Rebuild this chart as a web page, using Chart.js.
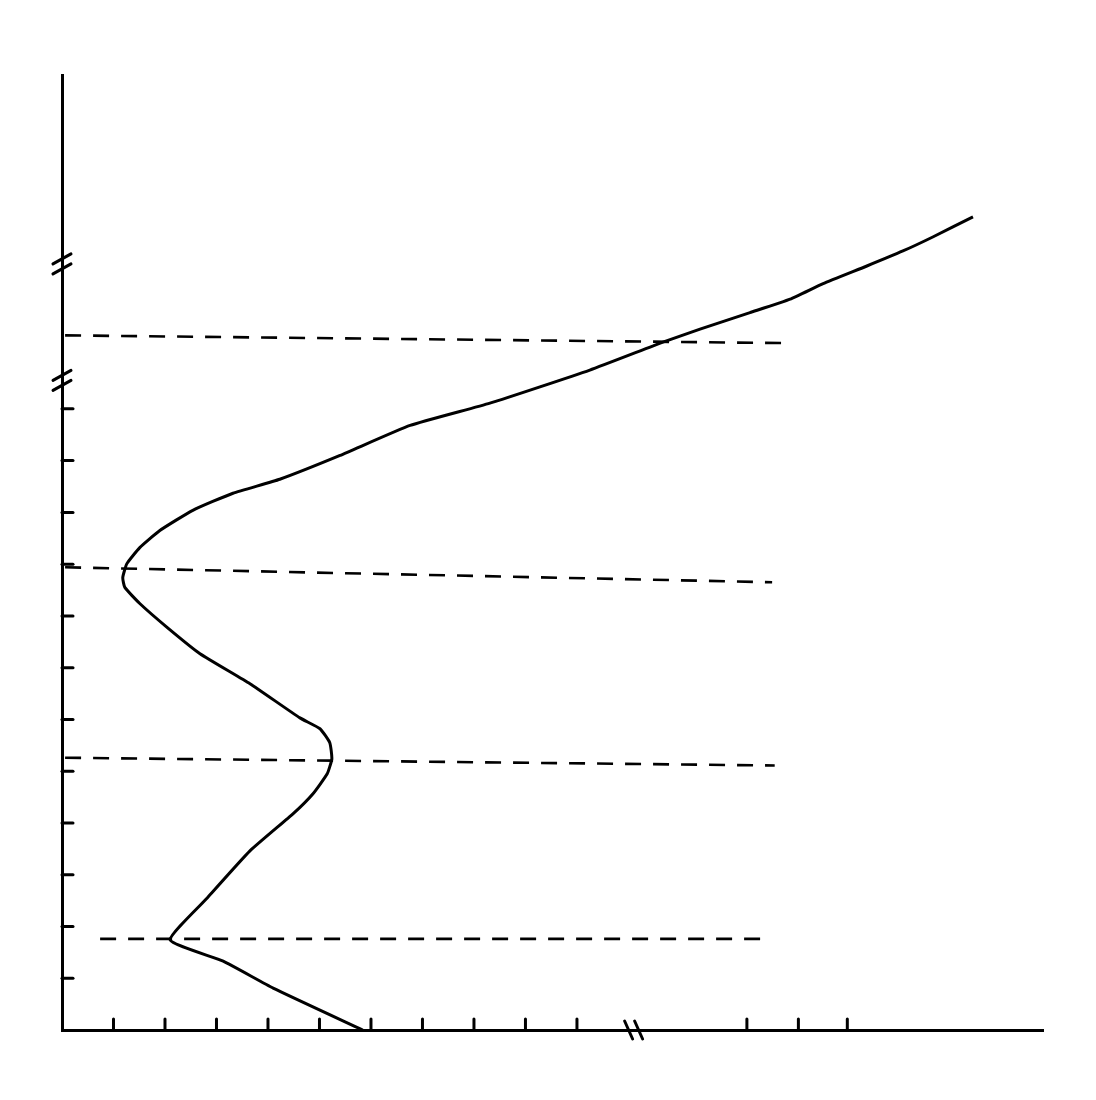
<!DOCTYPE html>
<html>
<head>
<meta charset="utf-8">
<script src="https://cdn.jsdelivr.net/npm/chart.js@4.4.1/dist/chart.umd.min.js"></script>
<style>
html,body{margin:0;padding:0;background:#fff;}
#wrap{width:1096px;height:1100px;}
</style>
</head>
<body>
<div id="wrap"><canvas id="c" width="1096" height="1100"></canvas></div>
<script>
// Profile curve (x = horizontal quantity, y = vertical position), in axis tick units
const profileX = [5.84,4.10,3.13,2.10,2.82,3.65,4.49,4.87,5.15,5.24,5.20,5.01,4.62,3.65,2.68,2.04,1.51,1.22,1.18,1.26,1.51,1.90,2.54,3.32,4.23,5.40,6.76,8.31,10.25,11.67,12.39,13.36,14.14,14.78,15.63,16.33,16.91,17.69];
const profileY = [0.00,0.81,1.33,1.74,2.55,3.46,4.18,4.56,4.95,5.24,5.55,5.82,6.03,6.69,7.27,7.78,8.24,8.55,8.74,9.01,9.32,9.65,10.04,10.37,10.64,11.10,11.68,12.11,12.75,13.29,13.54,13.86,14.12,14.42,14.76,15.05,15.32,15.71];

// Dashed reference levels: start/end x and start/end y
const levelStartX = [0.74, 0.06, 0.06, 0.06];
const levelEndX   = [13.65, 13.84, 13.79, 14.10];
const levelStartY = [1.76, 5.26, 8.94, 13.42];
const levelEndY   = [1.76, 5.11, 8.65, 13.27];

// Axis tick marks and breaks
const xTicks = [1,2,3,4,5,6,7,8,9,10,13.3,14.3,15.25];
const yTicks = [1,2,3,4,5,6,7,8,9,10,11,12];
const xBreaks = [11.1];
const yBreaks = [12.55, 14.8];

const xMax = 19.05, yMax = 18.45;

const datasets = [];
datasets.push({
  data: profileX.map((x,i)=>({x:x,y:profileY[i]})),
  borderColor:'#000', borderWidth:3, pointRadius:0, showLine:true, tension:0.15, fill:false
});
for(let i=0;i<levelStartX.length;i++){
  datasets.push({
    data:[{x:levelStartX[i],y:levelStartY[i]},{x:levelEndX[i],y:levelEndY[i]}],
    borderColor:'#000', borderWidth:2.6, borderDash:[16,12], pointRadius:0, showLine:true, fill:false
  });
}

const decor = {
  id:'decor',
  afterDraw(chart){
    const ctx = chart.ctx, xs = chart.scales.x, ys = chart.scales.y;
    const x0 = xs.getPixelForValue(0), y0 = ys.getPixelForValue(0);
    ctx.save();
    ctx.strokeStyle='#000'; ctx.lineCap='round';
    ctx.lineWidth=3;
    xTicks.forEach(v=>{const p=xs.getPixelForValue(v);ctx.beginPath();ctx.moveTo(p,y0);ctx.lineTo(p,y0-11);ctx.stroke();});
    yTicks.forEach(v=>{const p=ys.getPixelForValue(v);ctx.beginPath();ctx.moveTo(x0,p);ctx.lineTo(x0+11,p);ctx.stroke();});
    ctx.lineWidth=3;
    yBreaks.forEach(v=>{
      const p=ys.getPixelForValue(v);
      [-5,5].forEach(d=>{ctx.beginPath();ctx.moveTo(x0-9,p+d+5);ctx.lineTo(x0+9,p+d-5);ctx.stroke();});
    });
    xBreaks.forEach(v=>{
      const p=xs.getPixelForValue(v);
      [-5,5].forEach(d=>{ctx.beginPath();ctx.moveTo(p+d-4,y0-9);ctx.lineTo(p+d+4,y0+9);ctx.stroke();});
    });
    ctx.restore();
  }
};

new Chart(document.getElementById('c'),{
  type:'scatter',
  data:{datasets},
  options:{
    responsive:false, animation:false,
    layout:{padding:{left:54,right:53,top:75,bottom:62}},
    plugins:{legend:{display:false},tooltip:{enabled:false}},
    scales:{
      x:{type:'linear',min:0,max:xMax,ticks:{display:false},grid:{display:false},border:{display:true,color:'#000',width:3}},
      y:{type:'linear',min:0,max:yMax,ticks:{display:false},grid:{display:false},border:{display:true,color:'#000',width:3}}
    }
  },
  plugins:[decor]
});
</script>
</body>
</html>
